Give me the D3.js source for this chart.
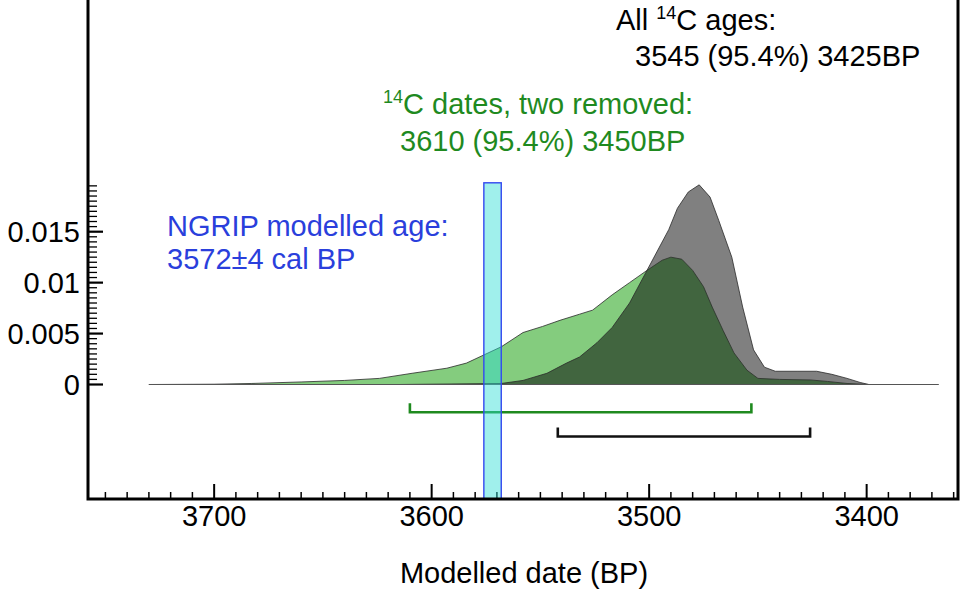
<!DOCTYPE html>
<html>
<head>
<meta charset="utf-8">
<script src="https://cdn.jsdelivr.net/npm/d3@7"></script>
<style>
  body { margin: 0; background: #fff; }
  svg { display: block; font-family: "Liberation Sans", Arial, Helvetica, sans-serif; }
</style>
</head>
<body>
<div id="chart"></div>
<script>
///////////////////////////
// DATA
///////////////////////////

// all 14C ages (grey)
const allYears = [3730, 3615, 3592, 3568, 3558, 3547, 3538, 3532, 3524, 3517, 3509, 3501, 3496, 3491, 3487,
    3482, 3477, 3472, 3468, 3462, 3457, 3452, 3447, 3442, 3432, 3423, 3416, 3409, 3403, 3399, 3367];
const allDensity = [0, 0, 0.00005, 0.0001, 0.0004, 0.0011, 0.0021, 0.0027, 0.0041, 0.0056, 0.0080, 0.0112, 0.0132, 0.0152, 0.0173,
    0.0189, 0.0196, 0.0184, 0.0161, 0.0125, 0.0076, 0.0034, 0.0017, 0.0013, 0.0013, 0.0013, 0.0010, 0.0006, 0.0002, 0, 0];

// 14C dates, two removed (green)
const remYears = [3730, 3700, 3683, 3660, 3640, 3624, 3609, 3593, 3584, 3576, 3568, 3558, 3549, 3541, 3532, 3526,
    3517, 3509, 3501, 3494, 3490, 3485, 3480, 3475, 3471, 3466, 3461, 3455, 3450, 3440, 3426, 3418, 3409, 3399, 3367];
const remDensity = [0, 0.00003, 0.0001, 0.00025, 0.0004, 0.0006, 0.0011, 0.0016, 0.0021, 0.0029, 0.0037, 0.0051, 0.0057, 0.0063, 0.0069, 0.0073,
    0.0088, 0.0100, 0.0112, 0.0122, 0.0125, 0.0123, 0.0112, 0.0096, 0.0076, 0.0053, 0.0031, 0.0014, 0.0006, 0.0005, 0.00045, 0.0003, 0.0001, 0, 0];

// 95.4% ranges
const remRange = [3610, 3453];
const allRange = [3542, 3426];

// NGRIP modelled age 3572 +/- 4
const ngripAge = 3572;
const ngripErr = 4;
const ngripTop = 0.0198;

const xTicksMajor = [3700, 3600, 3500, 3400];
const yTicksMajor = [0, 0.005, 0.01, 0.015];
const yTickLabels = ['0', '0.005', '0.01', '0.015'];

///////////////////////////
// LAYOUT
///////////////////////////

const width = 960;
const height = 589;
const left = 88;
const right = 958;
const bottom = 499;
const fontSize = '29px';

const x = d3.scaleLinear().domain([3758, 3358]).range([left, right]);
const y = d3.scaleLinear().domain([0, 0.015]).range([384.5, 231.7]);

const svg = d3.select('#chart')
    .append('svg')
    .attr('width', width)
    .attr('height', height);

const toPoints = (years, vals) => years.map((yr, i) => ({ yr: yr, v: vals[i] }));
const allData = toPoints(allYears, allDensity);
const remData = toPoints(remYears, remDensity);

const area = d3.area()
    .x((d) => { return x(d.yr) })
    .y0(y(0))
    .y1((d) => { return y(d.v) });

const line = d3.line()
    .x((d) => { return x(d.yr) })
    .y((d) => { return y(d.v) });

svg.append('clipPath')
    .attr('id', 'allClip')
    .append('path')
    .attr('d', area(allData));

// grey distribution
svg.append('path')
    .attr('d', area(allData))
    .style('fill', '#808080');

// light green distribution
svg.append('path')
    .attr('d', area(remData))
    .style('fill', '#84cc7e');

// overlap, dark green
svg.append('path')
    .attr('d', area(remData))
    .attr('clip-path', 'url(#allClip)')
    .style('fill', '#41653f');

// outlines
[allData, remData].forEach((d) => {
    svg.append('path')
        .attr('d', line(d))
        .style('fill', 'none')
        .style('stroke', '#2a2a2a')
        .style('stroke-width', 0.8);
});
svg.append('line')
    .attr('x1', x(3730)).attr('x2', x(3367))
    .attr('y1', y(0)).attr('y2', y(0))
    .style('stroke', '#555')
    .style('stroke-width', 1.2);

// range brackets
const bracket = (range, yy, color) => {
    svg.append('path')
        .attr('d', `M${x(range[0])},${yy - 9}V${yy}H${x(range[1])}V${yy - 9}`)
        .style('fill', 'none')
        .style('stroke', color)
        .style('stroke-width', 2.6);
};
bracket(remRange, 412.3, '#1f8a1f');
bracket(allRange, 436.5, '#111');

///////////////////////////
// AXES
///////////////////////////

// x minor ticks
const xMinor = d3.range(3750, 3359, -10).filter((t) => xTicksMajor.indexOf(t) < 0);
svg.selectAll('.xminor')
    .data(xMinor)
    .enter().append('line')
    .attr('class', 'xminor')
    .attr('x1', (d) => { return x(d) }).attr('x2', (d) => { return x(d) })
    .attr('y1', bottom).attr('y2', bottom - 7)
    .style('stroke', '#000')
    .style('stroke-width', 1.5);

svg.selectAll('.xmajor')
    .data(xTicksMajor)
    .enter().append('line')
    .attr('class', 'xmajor')
    .attr('x1', (d) => { return x(d) }).attr('x2', (d) => { return x(d) })
    .attr('y1', bottom).attr('y2', bottom - 15)
    .style('stroke', '#000')
    .style('stroke-width', 2);

svg.selectAll('.xlabel')
    .data(xTicksMajor)
    .enter().append('text')
    .attr('class', 'xlabel')
    .attr('x', (d) => { return x(d) })
    .attr('y', 526)
    .attr('text-anchor', 'middle')
    .style('font-size', fontSize)
    .text((d) => { return d });

// y ticks
const yMinor = d3.range(0, 0.01951, 0.0005).filter((t, i) => i % 10 !== 0);
svg.selectAll('.yminor')
    .data(yMinor)
    .enter().append('line')
    .attr('class', 'yminor')
    .attr('x1', left).attr('x2', left + 9)
    .attr('y1', (d) => { return y(d) }).attr('y2', (d) => { return y(d) })
    .style('stroke', '#000')
    .style('stroke-width', 1.3);

svg.selectAll('.ymajor')
    .data(yTicksMajor)
    .enter().append('line')
    .attr('class', 'ymajor')
    .attr('x1', left).attr('x2', left + 15)
    .attr('y1', (d) => { return y(d) }).attr('y2', (d) => { return y(d) })
    .style('stroke', '#000')
    .style('stroke-width', 2.2);

svg.selectAll('.ylabel')
    .data(yTicksMajor)
    .enter().append('text')
    .attr('class', 'ylabel')
    .attr('x', 80)
    .attr('y', (d) => { return y(d) + 10.5 })
    .attr('text-anchor', 'end')
    .style('font-size', fontSize)
    .text((d, i) => { return yTickLabels[i] });

// NGRIP box
svg.append('rect')
    .attr('x', x(ngripAge + ngripErr))
    .attr('y', y(ngripTop))
    .attr('width', x(ngripAge - ngripErr) - x(ngripAge + ngripErr))
    .attr('height', bottom - y(ngripTop))
    .style('fill', 'rgb(44,222,213)')
    .style('fill-opacity', 0.45)
    .style('stroke', '#3348f0')
    .style('stroke-width', 1.4);

// frame
svg.append('path')
    .attr('d', `M${left},-5V${bottom}H${right}V-5`)
    .style('fill', 'none')
    .style('stroke', '#000')
    .style('stroke-width', 3);

svg.append('text')
    .attr('x', 524)
    .attr('y', 583)
    .attr('text-anchor', 'middle')
    .style('font-size', fontSize)
    .text('Modelled date (BP)');

///////////////////////////
// ANNOTATIONS
///////////////////////////

const addSup = (t, before, after) => {
    if (before) t.append('tspan').text(before);
    t.append('tspan').attr('dy', -11).style('font-size', '18px').text('14');
    t.append('tspan').attr('dy', 11).text(after);
};

let t1 = svg.append('text').attr('x', 616).attr('y', 30)
    .style('font-size', fontSize).style('fill', '#000');
addSup(t1, 'All ', 'C ages:');
svg.append('text').attr('x', 635).attr('y', 66)
    .style('font-size', fontSize).style('fill', '#000')
    .text('3545 (95.4%) 3425BP');

let t2 = svg.append('text').attr('x', 383).attr('y', 114)
    .style('font-size', fontSize).style('fill', '#1f8a1f');
addSup(t2, '', 'C dates, two removed:');
svg.append('text').attr('x', 400).attr('y', 151)
    .style('font-size', fontSize).style('fill', '#1f8a1f')
    .text('3610 (95.4%) 3450BP');

svg.append('text').attr('x', 167).attr('y', 236)
    .style('font-size', fontSize).style('fill', '#2a3fdc')
    .text('NGRIP modelled age:');
svg.append('text').attr('x', 167).attr('y', 269)
    .style('font-size', fontSize).style('fill', '#2a3fdc')
    .text('3572±4 cal BP');
</script>
</body>
</html>
